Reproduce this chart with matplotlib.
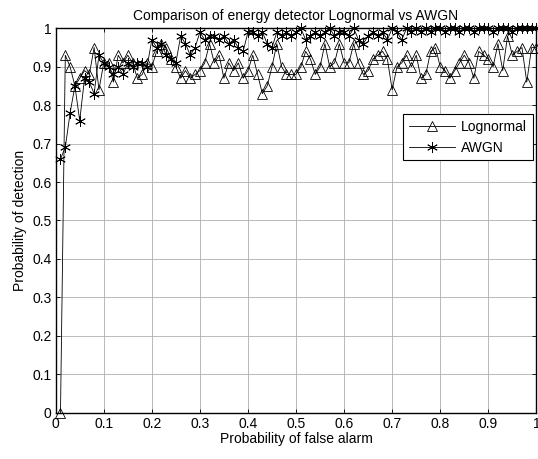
import numpy as np
import matplotlib
matplotlib.use("Agg")
import matplotlib.pyplot as plt
from matplotlib.ticker import MultipleLocator

plt.rcParams['font.family'] = ['Liberation Sans', 'DejaVu Sans']

# Probability of false alarm (x) and detection (y)
pfa = [k / 100 for k in range(1, 101)]

pd_lognormal = [
    0.00, 0.93, 0.90, 0.85, 0.87, 0.89, 0.88, 0.95, 0.84, 0.91,
    0.91, 0.86, 0.93, 0.91, 0.93, 0.91, 0.87, 0.88, 0.91, 0.90,
    0.94, 0.96, 0.95, 0.92, 0.90, 0.87, 0.89, 0.87, 0.88, 0.89,
    0.91, 0.96, 0.91, 0.93, 0.87, 0.91, 0.89, 0.91, 0.87, 0.89,
    0.93, 0.88, 0.83, 0.85, 0.90, 0.96, 0.90, 0.88, 0.88, 0.88,
    0.90, 0.94, 0.92, 0.88, 0.90, 0.96, 0.90, 0.91, 0.96, 0.91,
    0.91, 0.96, 0.91, 0.88, 0.89, 0.92, 0.93, 0.94, 0.92, 0.84,
    0.90, 0.91, 0.93, 0.90, 0.93, 0.87, 0.88, 0.94, 0.95, 0.90,
    0.89, 0.87, 0.89, 0.91, 0.93, 0.91, 0.87, 0.94, 0.93, 0.92,
    0.90, 0.96, 0.89, 0.98, 0.93, 0.94, 0.95, 0.86, 0.95, 0.95,
]

pd_awgn = [
    0.66, 0.69, 0.78, 0.85, 0.76, 0.87, 0.86, 0.83, 0.93, 0.91,
    0.90, 0.88, 0.90, 0.88, 0.91, 0.90, 0.91, 0.91, 0.90, 0.97,
    0.95, 0.96, 0.93, 0.92, 0.91, 0.98, 0.96, 0.93, 0.95, 0.99,
    0.97, 0.98, 0.98, 0.97, 0.98, 0.96, 0.97, 0.95, 0.94, 0.99,
    0.99, 0.98, 0.99, 0.96, 0.95, 0.99, 0.98, 0.99, 0.98, 0.99,
    1.00, 0.97, 0.98, 0.99, 0.98, 0.99, 1.00, 0.98, 0.99, 0.99,
    0.98, 1.00, 0.97, 0.96, 0.98, 0.99, 0.98, 0.99, 0.97, 1.00,
    0.99, 0.97, 1.00, 0.99, 1.00, 0.99, 1.00, 0.99, 1.00, 1.00,
    0.99, 1.00, 1.00, 0.99, 1.00, 1.00, 0.99, 1.00, 1.00, 1.00,
    0.99, 1.00, 1.00, 1.00, 0.99, 1.00, 1.00, 1.00, 1.00, 1.00,
]

series_names = ["Lognormal", "AWGN"]
title = "Comparison of energy detector Lognormal vs AWGN"
xlabel = "Probability of false alarm"
ylabel = "Probability of detection"

fig = plt.figure(figsize=(5.38, 4.59), dpi=100)
ax = fig.add_axes([0.1035, 0.101, 0.8935, 0.8373])

ax.plot(pfa, pd_lognormal, color='black', lw=0.6, marker='^', ms=7.4,
        mfc='none', mec='black', mew=0.6, clip_on=False, label=series_names[0], zorder=3)
ax.plot(pfa, pd_awgn, color='black', lw=0.6, marker=(6, 2, 0), ms=7.8,
        mec='black', mew=0.6, clip_on=False, label=series_names[1], zorder=3)

ax.set_xlim(0, 1)
ax.set_ylim(0, 1)
ax.xaxis.set_major_locator(MultipleLocator(0.1))
ax.yaxis.set_major_locator(MultipleLocator(0.1))

def fmt(v, pos):
    s = f"{v:.1f}"
    if s.endswith(".0"):
        s = s[:-2]
    return s
ax.xaxis.set_major_formatter(plt.FuncFormatter(fmt))
ax.yaxis.set_major_formatter(plt.FuncFormatter(fmt))

ax.tick_params(direction='in', length=3, width=0.6, top=True, right=True,
               labelsize=10, pad=3)
ax.grid(True, color='#b0b0b0', lw=0.6, ls='-')
ax.set_axisbelow(True)
for s in ax.spines.values():
    s.set_linewidth(1.0)
    s.set_zorder(2.5)

ax.set_title(title, fontsize=10, pad=6)
ax.set_xlabel(xlabel, fontsize=10, labelpad=1)
ax.set_ylabel(ylabel, fontsize=10, labelpad=4)

leg = ax.legend(loc='upper right', bbox_to_anchor=(0.992, 0.776), borderaxespad=0,
                fontsize=10, handlelength=3.3, handletextpad=0.45, labelspacing=0.5,
                fancybox=False, framealpha=1, edgecolor='black', borderpad=0.4)
leg.get_frame().set_linewidth(0.8)

fig.savefig("out.png", dpi=100)
